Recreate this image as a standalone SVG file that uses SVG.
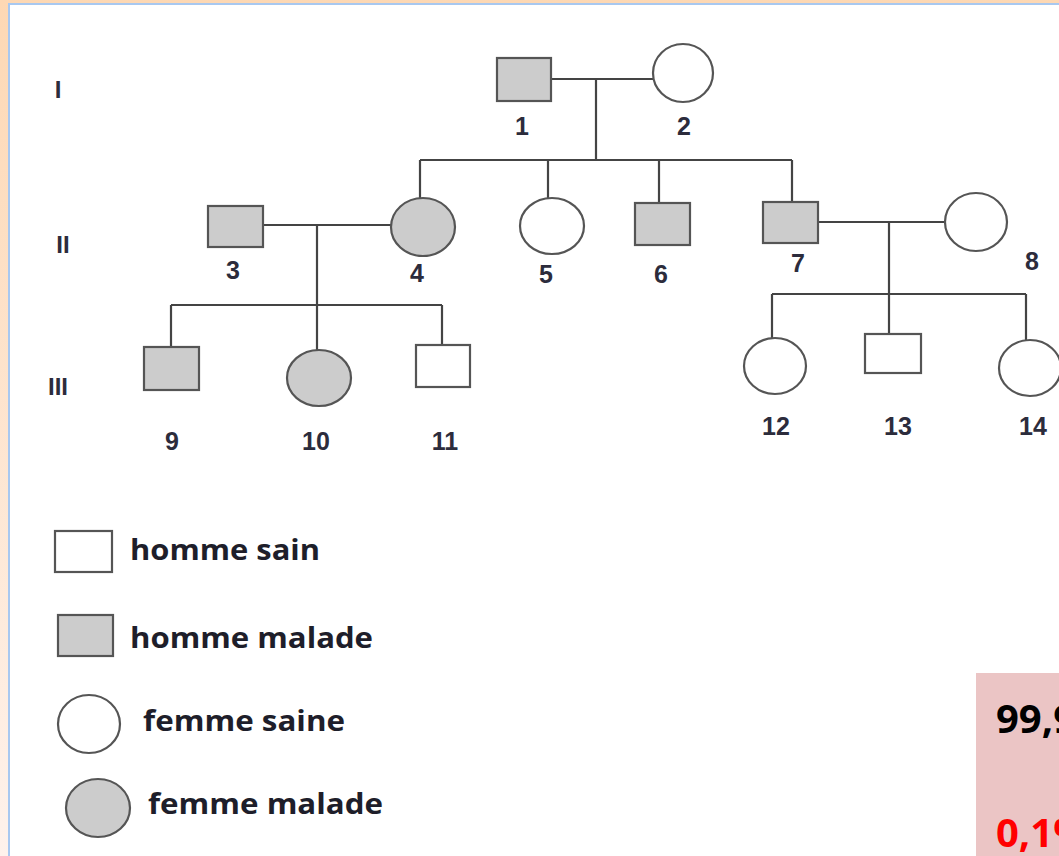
<svg xmlns="http://www.w3.org/2000/svg" width="1059" height="856" viewBox="0 0 1059 856">
<defs>
<linearGradient id="bg" x1="0" y1="0" x2="0" y2="1">
<stop offset="0" stop-color="#FDD8B4"/>
<stop offset="1" stop-color="#FEF2EC"/>
</linearGradient>
<style>
.sq{stroke:#555;stroke-width:2.2}
.aff{fill:#cccccc}
.un{fill:#ffffff}
.ln{stroke:#444;stroke-width:2.2;fill:none}
.num{font-family:"Liberation Sans",Arial,sans-serif;font-weight:bold;font-size:25px;fill:#2c2c3c;text-anchor:middle}
.gen{font-family:"Liberation Sans",Arial,sans-serif;font-weight:bold;font-size:24px;fill:#2c2c3c;text-anchor:middle}
.leg{font-family:"Open Sans","Liberation Sans",Arial,sans-serif;font-weight:bold;font-size:29px;fill:#1e1e2a}
.pct{font-family:"Open Sans","Liberation Sans",Arial,sans-serif;font-weight:bold;font-size:40px}
</style>
</defs>
<rect x="0" y="0" width="1059" height="856" fill="url(#bg)"/>
<rect x="9" y="4" width="1060" height="860" fill="#ffffff" stroke="#A8C8F0" stroke-width="2"/>

<g id="generations">
<text class="gen" x="58" y="98">I</text>
<text class="gen" x="63" y="253">II</text>
<text class="gen" x="58" y="395">III</text>
</g>

<g id="connectors">
<path class="ln" d="M551 79 H653"/>
<path class="ln" d="M596 79 V160"/>
<path class="ln" d="M420 160 H792"/>
<path class="ln" d="M420 160 V198"/>
<path class="ln" d="M548 160 V198"/>
<path class="ln" d="M659 160 V203"/>
<path class="ln" d="M792 160 V202"/>
<path class="ln" d="M263 225 H391"/>
<path class="ln" d="M317 225 V350"/>
<path class="ln" d="M171 305 H442"/>
<path class="ln" d="M171 305 V347"/>
<path class="ln" d="M442 305 V345"/>
<path class="ln" d="M818 222 H945"/>
<path class="ln" d="M889 222 V334"/>
<path class="ln" d="M772 294 H1026"/>
<path class="ln" d="M772 294 V338"/>
<path class="ln" d="M1026 294 V340"/>
</g>

<g id="n1"><rect class="sq aff" x="497" y="58" width="54" height="43"/><text class="num" x="522" y="135">1</text></g>
<g id="n2"><ellipse class="sq un" cx="683" cy="73" rx="30" ry="29"/><text class="num" x="684" y="135">2</text></g>
<g id="n3"><rect class="sq aff" x="208" y="206" width="55" height="41"/><text class="num" x="233" y="279">3</text></g>
<g id="n4"><ellipse class="sq aff" cx="423" cy="227" rx="32" ry="29"/><text class="num" x="417" y="282">4</text></g>
<g id="n5"><ellipse class="sq un" cx="552" cy="226" rx="32" ry="28"/><text class="num" x="546" y="283">5</text></g>
<g id="n6"><rect class="sq aff" x="635" y="203" width="55" height="42"/><text class="num" x="661" y="283">6</text></g>
<g id="n7"><rect class="sq aff" x="763" y="202" width="55" height="41"/><text class="num" x="798" y="272">7</text></g>
<g id="n8"><ellipse class="sq un" cx="976" cy="222" rx="31" ry="29"/><text class="num" x="1032" y="270">8</text></g>
<g id="n9"><rect class="sq aff" x="144" y="347" width="55" height="43"/><text class="num" x="172" y="450">9</text></g>
<g id="n10"><ellipse class="sq aff" cx="319" cy="378" rx="32" ry="28"/><text class="num" x="316" y="450">10</text></g>
<g id="n11"><rect class="sq un" x="416" y="345" width="54" height="42"/><text class="num" x="445" y="450">11</text></g>
<g id="n12"><ellipse class="sq un" cx="775" cy="366" rx="31" ry="28"/><text class="num" x="776" y="435">12</text></g>
<g id="n13"><rect class="sq un" x="865" y="334" width="56" height="39"/><text class="num" x="898" y="435">13</text></g>
<g id="n14"><ellipse class="sq un" cx="1030" cy="368" rx="31" ry="28"/><text class="num" x="1033" y="435">14</text></g>

<g id="legend">
<rect class="sq un" x="55" y="531" width="57" height="41"/>
<text class="leg" x="130" y="560" textLength="190" lengthAdjust="spacingAndGlyphs">homme sain</text>
<rect class="sq aff" x="58" y="615" width="55" height="41"/>
<text class="leg" x="130" y="648" textLength="243" lengthAdjust="spacingAndGlyphs">homme malade</text>
<ellipse class="sq un" cx="89" cy="724" rx="31" ry="29"/>
<text class="leg" x="143" y="731" textLength="202" lengthAdjust="spacingAndGlyphs">femme saine</text>
<ellipse class="sq aff" cx="98" cy="808" rx="32" ry="29"/>
<text class="leg" x="148" y="814" textLength="235" lengthAdjust="spacingAndGlyphs">femme malade</text>
</g>

<g id="freq">
<rect x="976" y="673" width="90" height="190" fill="#EBC5C5"/>
<text class="pct" x="996" y="733" fill="#000000">99,9%</text>
<text class="pct" x="996" y="847" fill="#FF0000">0,1%</text>
</g>
</svg>
